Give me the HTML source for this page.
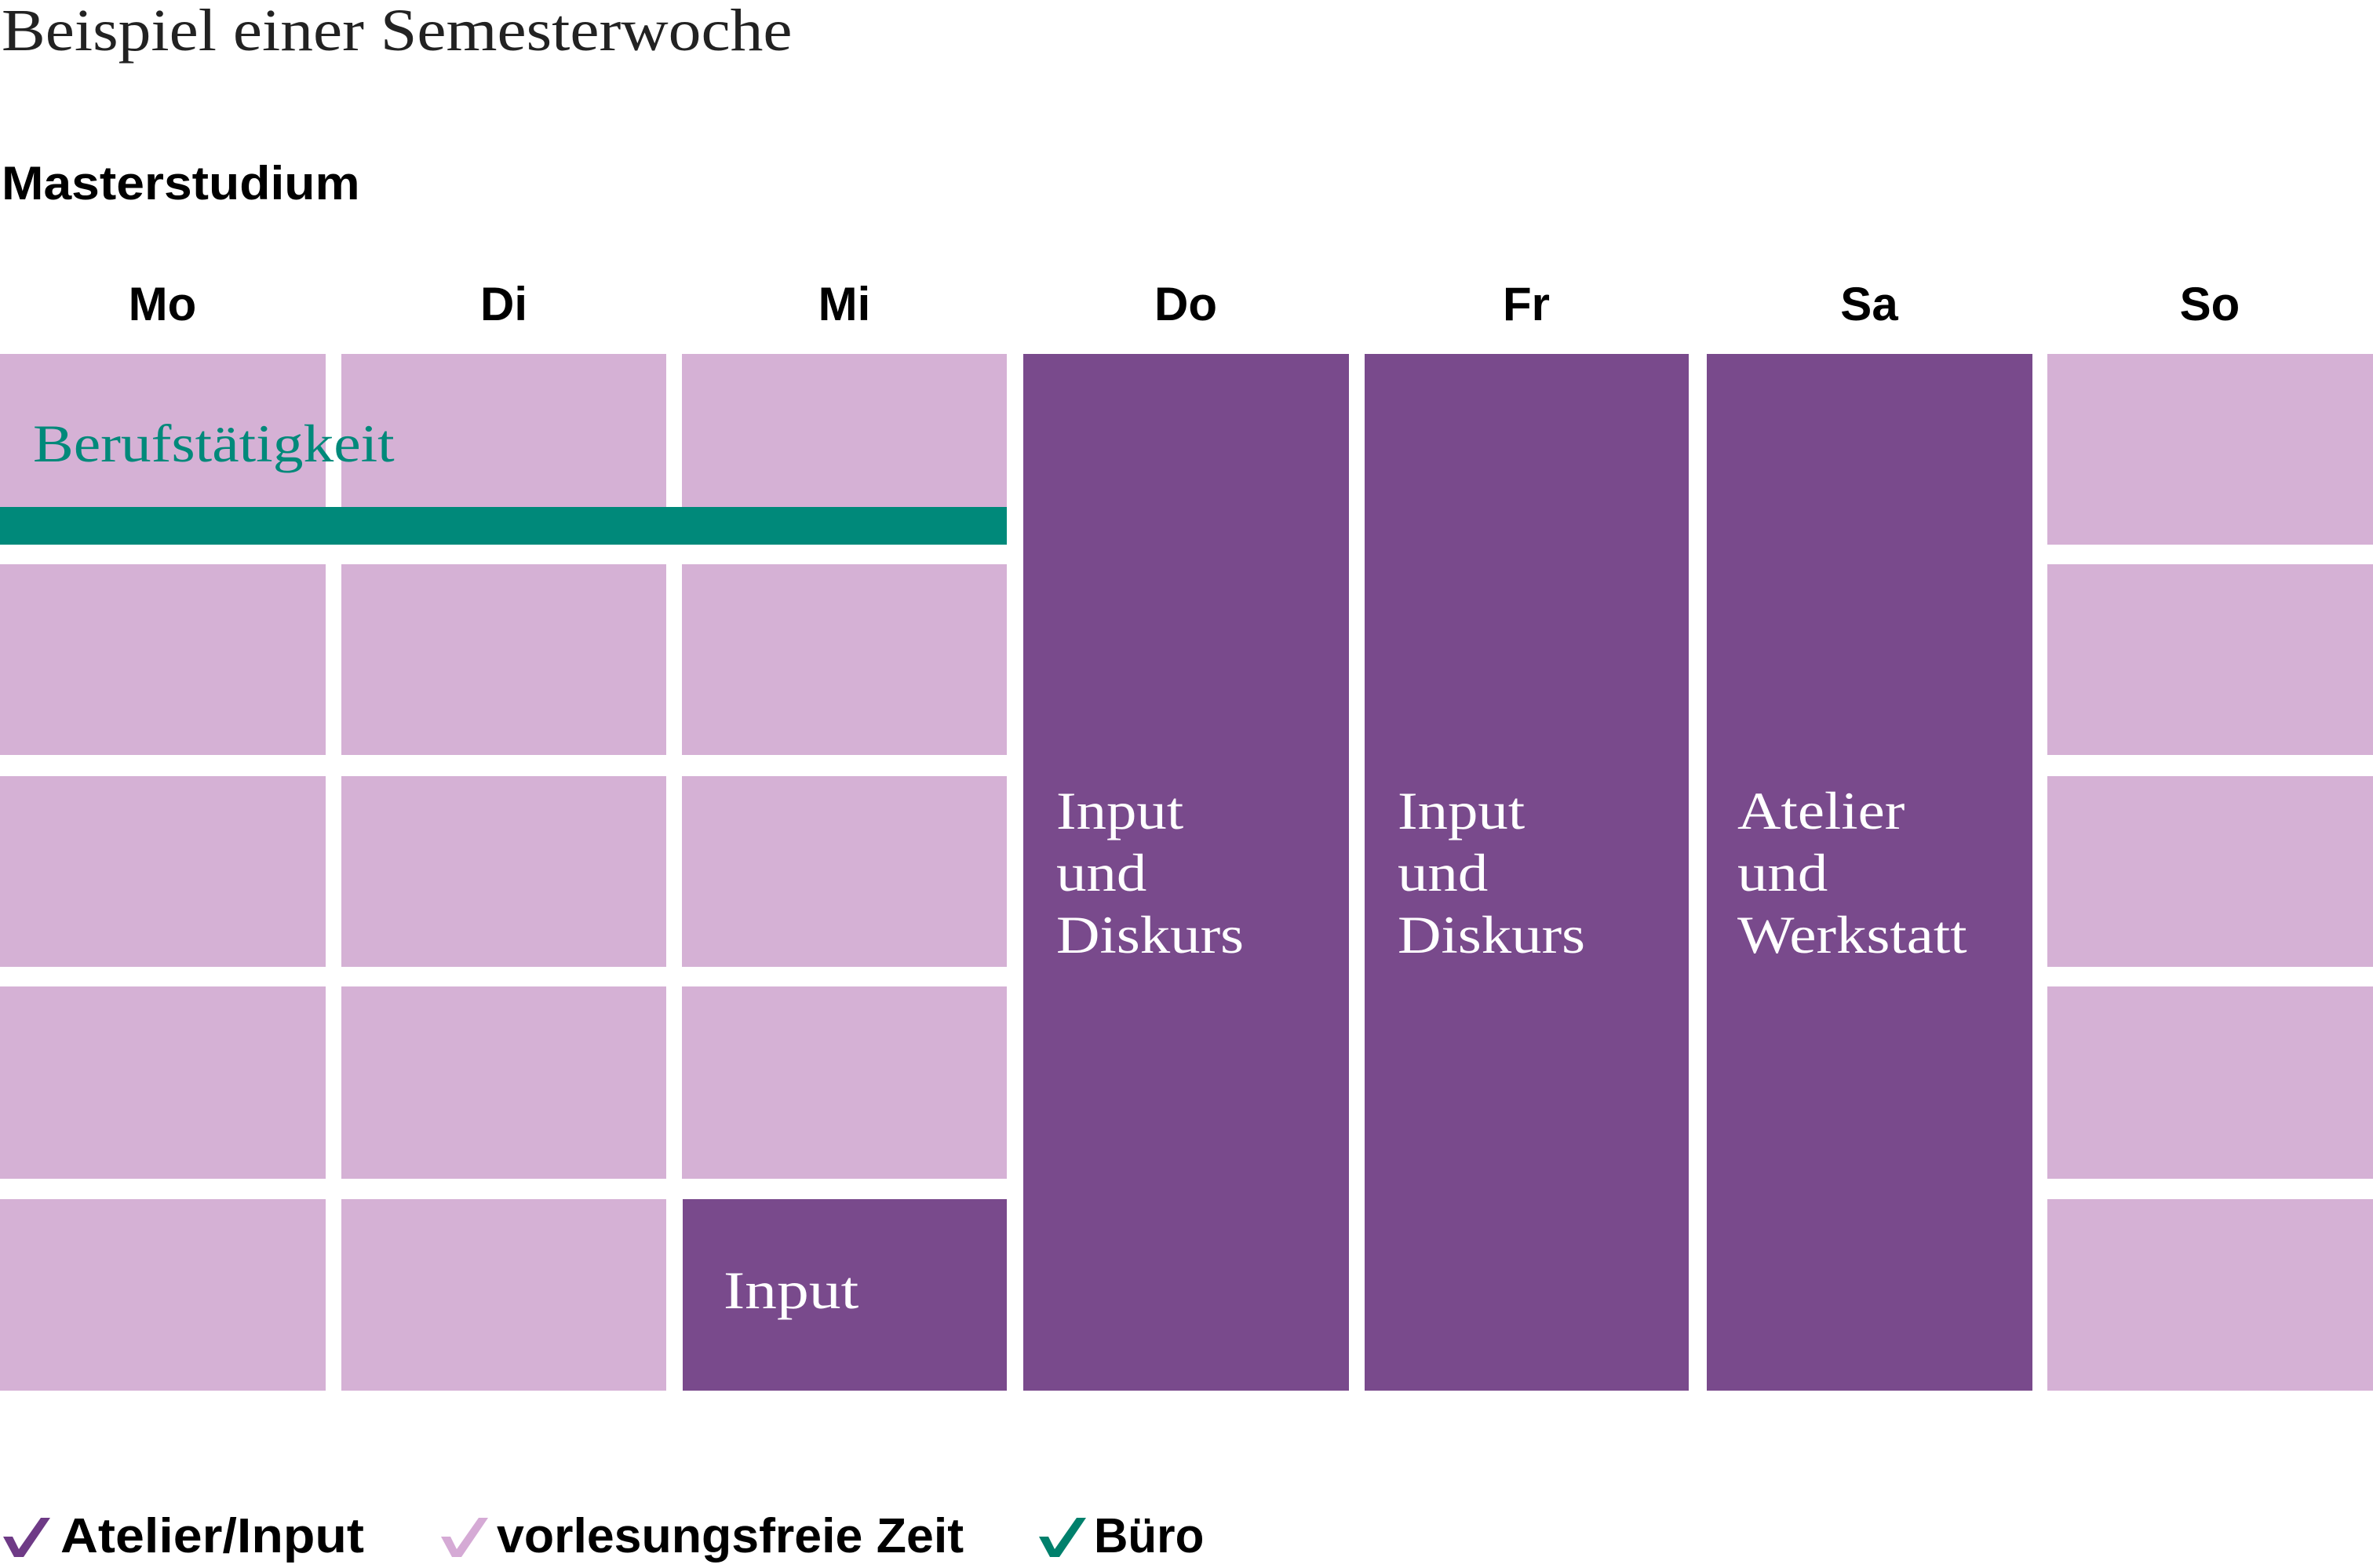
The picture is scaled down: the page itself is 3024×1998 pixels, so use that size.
<!DOCTYPE html>
<html><head><meta charset="utf-8"><style>
body{margin:0;width:3024px;height:1998px;background:#fff;position:relative;overflow:hidden;font-family:"Liberation Sans",sans-serif}
div{position:absolute}
.l{background:#d5b1d5}.d{background:#794a8c}.g{background:#00897a}
.day{top:350px;width:200px;text-align:center;font-weight:bold;font-size:60px;line-height:76px;color:#000}
.s{font-family:"Liberation Serif",serif;color:#fff;font-size:68px;line-height:79px;transform:scaleX(1.13);transform-origin:left}
.lg{top:1918px;font-weight:bold;font-size:62px;line-height:80px;color:#000;transform-origin:left}
</style></head><body>
<div style="left:2px;top:-6px;font-family:'Liberation Serif',serif;font-size:76px;line-height:90px;color:#222;transform:scaleX(1.1);transform-origin:left">Beispiel einer Semesterwoche</div>
<div style="left:2px;top:196px;font-weight:bold;font-size:60px;line-height:76px;transform:scaleX(1.07);transform-origin:left">Masterstudium</div>
<div class="day" style="left:107px">Mo</div>
<div class="day" style="left:542px">Di</div>
<div class="day" style="left:976px">Mi</div>
<div class="day" style="left:1411px">Do</div>
<div class="day" style="left:1845px">Fr</div>
<div class="day" style="left:2282px">Sa</div>
<div class="day" style="left:2716px">So</div>
<div class="l" style="left:0;top:451px;width:415px;height:195px"></div>
<div class="l" style="left:435px;top:451px;width:414px;height:195px"></div>
<div class="l" style="left:869px;top:451px;width:414px;height:195px"></div>
<div class="g" style="left:0;top:646px;width:1283px;height:48px"></div>
<div style="left:42px;top:520px;font-family:'Liberation Serif',serif;font-size:68px;line-height:90px;color:#00897a;transform:scaleX(1.14);transform-origin:left">Berufstätigkeit</div>
<div class="l" style="left:0;top:719px;width:415px;height:243px"></div>
<div class="l" style="left:435px;top:719px;width:414px;height:243px"></div>
<div class="l" style="left:869px;top:719px;width:414px;height:243px"></div>
<div class="l" style="left:0;top:989px;width:415px;height:243px"></div>
<div class="l" style="left:435px;top:989px;width:414px;height:243px"></div>
<div class="l" style="left:869px;top:989px;width:414px;height:243px"></div>
<div class="l" style="left:0;top:1257px;width:415px;height:245px"></div>
<div class="l" style="left:435px;top:1257px;width:414px;height:245px"></div>
<div class="l" style="left:869px;top:1257px;width:414px;height:245px"></div>
<div class="l" style="left:0;top:1528px;width:415px;height:244px"></div>
<div class="l" style="left:435px;top:1528px;width:414px;height:244px"></div>
<div class="d" style="left:870px;top:1528px;width:413px;height:244px"></div>
<div class="s" style="left:922px;top:1605px;transform:scaleX(1.2)">Input</div>
<div class="d" style="left:1304px;top:451px;width:415px;height:1321px"></div>
<div class="d" style="left:1739px;top:451px;width:413px;height:1321px"></div>
<div class="d" style="left:2175px;top:451px;width:415px;height:1321px"></div>
<div class="s" style="left:1346px;top:994px">Input<br>und<br>Diskurs</div>
<div class="s" style="left:1781px;top:994px">Input<br>und<br>Diskurs</div>
<div class="s" style="left:2214px;top:994px">Atelier<br>und<br>Werkstatt</div>
<div class="l" style="left:2609px;top:451px;width:415px;height:243px"></div>
<div class="l" style="left:2609px;top:719px;width:415px;height:243px"></div>
<div class="l" style="left:2609px;top:989px;width:415px;height:243px"></div>
<div class="l" style="left:2609px;top:1257px;width:415px;height:245px"></div>
<div class="l" style="left:2609px;top:1528px;width:415px;height:244px"></div>
<svg style="position:absolute;left:0;top:1930px" width="3024" height="60">
<path d="M4 28 L18 54 L30 54 L64 4 L52 4 L24 44 L16 28 Z" fill="#6e3a86"/>
<path d="M562 28 L576 54 L588 54 L622 4 L610 4 L582 44 L574 28 Z" fill="#d5aad5"/>
<path d="M1324 28 L1338 54 L1350 54 L1384 4 L1372 4 L1344 44 L1336 28 Z" fill="#00806c"/>
</svg>
<div class="lg" style="left:77px;transform:scaleX(1.07)">Atelier/Input</div>
<div class="lg" style="left:633px;transform:scaleX(1.01)">vorlesungsfreie Zeit</div>
<div class="lg" style="left:1394px;transform:scaleX(0.97)">Büro</div>
</body></html>
